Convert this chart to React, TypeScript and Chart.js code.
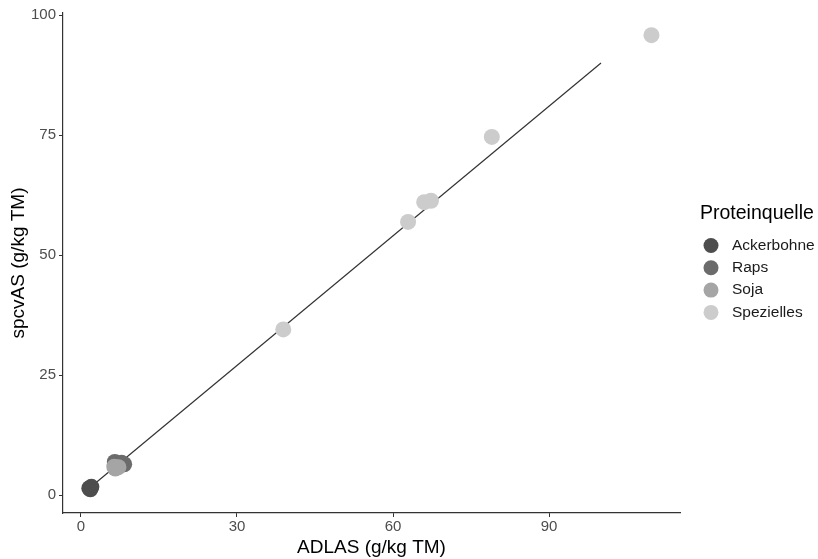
import React, { useEffect, useRef } from "react";
import { Chart, registerables } from "chart.js";

Chart.register(...registerables);

const categories = ["Ackerbohne", "Raps", "Soja", "Spezielles"];
const colors = ["#4d4d4d", "#6b6b6b", "#a5a5a5", "#cccccc"];

const ackerbohneX = [1.6, 2.0, 1.8];
const ackerbohneY = [1.4, 1.7, 1.2];
const rapsX = [6.5, 7.8, 8.3];
const rapsY = [6.9, 6.7, 6.4];
const sojaX = [6.4, 6.6, 7.2];
const sojaY = [5.9, 5.5, 5.8];
const speziellesX = [38.9, 62.9, 66.0, 67.3, 79.0, 109.7];
const speziellesY = [34.5, 56.9, 61.0, 61.3, 74.6, 95.8];

const fitX = [1.7, 100];
const fitY = [1.5, 90.0];

const xTicks = [0, 30, 60, 90];
const yTicks = [0, 25, 50, 75, 100];

const xTitle = "ADLAS (g/kg TM)";
const yTitle = "spcvAS (g/kg TM)";
const legendTitle = "Proteinquelle";

const FONT = "'Liberation Sans', Arial, sans-serif";

const toPoints = (xs: number[], ys: number[]) => xs.map((x, i) => ({ x, y: ys[i] }));

const legendPlugin = {
  id: "customLegend",
  afterDraw(chart: any) {
    const ctx = chart.ctx;
    ctx.save();
    ctx.textBaseline = "middle";
    ctx.textAlign = "left";
    ctx.fillStyle = "#000000";
    ctx.font = `19.5px ${FONT}`;
    ctx.fillText(legendTitle, 700, 214);
    ctx.font = `15.5px ${FONT}`;
    categories.forEach((c, i) => {
      const y = 245.5 + i * 22.3;
      ctx.beginPath();
      ctx.arc(711, y, 7.5, 0, Math.PI * 2);
      ctx.fillStyle = colors[i];
      ctx.fill();
      ctx.fillStyle = "#1a1a1a";
      ctx.fillText(c, 732, y);
    });
    ctx.restore();
  },
};

export default function App() {
  const ref = useRef<HTMLCanvasElement | null>(null);

  useEffect(() => {
    if (!ref.current) return;
    const series = [
      { label: categories[0], data: toPoints(ackerbohneX, ackerbohneY), color: colors[0], order: 4 },
      { label: categories[1], data: toPoints(rapsX, rapsY), color: colors[1], order: 3 },
      { label: categories[2], data: toPoints(sojaX, sojaY), color: colors[2], order: 2 },
      { label: categories[3], data: toPoints(speziellesX, speziellesY), color: colors[3], order: 1 },
    ];
    const chart = new Chart(ref.current, {
      type: "scatter",
      data: {
        datasets: [
          ...series.map((s) => ({
            type: "scatter" as const,
            label: s.label,
            data: s.data,
            backgroundColor: s.color,
            borderWidth: 0,
            pointRadius: 8,
            pointHoverRadius: 8,
            order: s.order,
          })),
          {
            type: "line" as const,
            label: "fit",
            data: toPoints(fitX, fitY),
            borderColor: "#333333",
            borderWidth: 1.2,
            pointRadius: 0,
            showLine: true,
            fill: false,
            order: 10,
          },
        ],
      },
      options: {
        responsive: false,
        animation: false,
        devicePixelRatio: 1,
        layout: { padding: { top: 13, right: 138, left: 0, bottom: 0 } },
        plugins: { legend: { display: false }, tooltip: { enabled: false } },
        scales: {
          x: {
            type: "linear",
            min: -3.46,
            max: 115.19,
            afterBuildTicks: (s: any) => {
              s.ticks = xTicks.map((v) => ({ value: v }));
            },
            afterFit: (s: any) => {
              s.height = 46;
            },
            grid: { display: true, drawOnChartArea: false, drawTicks: true, tickLength: 4, tickColor: "#333333" },
            border: { display: true, color: "#333333", width: 1.2 },
            ticks: { color: "#4d4d4d", font: { size: 15, family: FONT }, padding: 1, maxRotation: 0 },
            title: {
              display: true,
              text: xTitle,
              color: "#000000",
              font: { size: 19, family: FONT },
              padding: { top: 0, bottom: 0 },
            },
          },
          y: {
            type: "linear",
            min: -3.75,
            max: 100.42,
            afterBuildTicks: (s: any) => {
              s.ticks = yTicks.map((v) => ({ value: v }));
            },
            afterFit: (s: any) => {
              s.width = 63;
            },
            grid: { display: true, drawOnChartArea: false, drawTicks: true, tickLength: 4, tickColor: "#333333" },
            border: { display: true, color: "#333333", width: 1.2 },
            ticks: { color: "#4d4d4d", font: { size: 15, family: FONT }, padding: 3 },
            title: {
              display: true,
              text: yTitle,
              color: "#000000",
              font: { size: 19, family: FONT },
              padding: { top: 7, bottom: 0 },
            },
          },
        },
      },
      plugins: [legendPlugin],
    } as any);
    return () => chart.destroy();
  }, []);

  return (
    <div style={{ position: "fixed", left: 0, top: 0, width: 818, height: 559, background: "#ffffff" }}>
      <canvas ref={ref} width={818} height={559} style={{ width: 818, height: 559 }} />
    </div>
  );
}
